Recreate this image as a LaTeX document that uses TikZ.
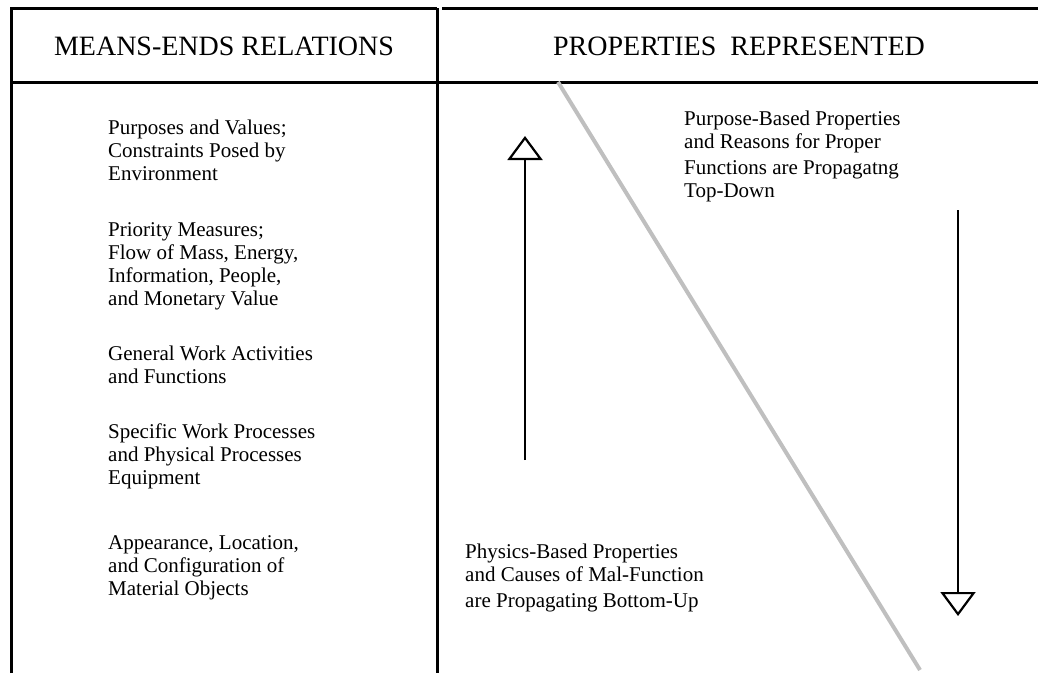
\documentclass[tikz,border=0pt]{standalone}
\usepackage{fontspec}
\setmainfont{Liberation Serif}
\usetikzlibrary{arrows.meta}
\begin{document}
\begin{tikzpicture}[x=1pt,y=-1pt,
  border/.style={line width=3pt, black},
  body/.style={font=\fontsize{21}{23}\selectfont, align=left, anchor=base west, inner sep=0pt},
  head/.style={font=\fontsize{28}{30}\selectfont, inner sep=0pt, anchor=base},
  flow/.style={line width=2.2pt, -{Triangle[open,length=24pt,width=35pt,line width=2.2pt]}},
  diag/.style={line width=4pt, color=black!25}]
\useasboundingbox (0,0) rectangle (1038,673);
% frame
\draw[border] (11,673) -- (11,8) -- (437,8);
\draw[border] (437,8) -- (437,673);
\draw[border] (442,8) -- (1038,8);
\draw[border] (11,82) -- (1038,82);
% headers
\node[head] (h1) at (224,55) {MEANS-ENDS RELATIONS};
\node[head] (h2) at (739,55) {PROPERTIES\ \ REPRESENTED};
% left column (anchor = baseline of last line)
\node[body] (l1) at (108,180) {Purposes and Values;\\Constraints Posed by\\Environment};
\node[body] (l2) at (108,305) {Priority Measures;\\Flow of Mass, Energy,\\Information, People,\\and Monetary Value};
\node[body] (l3) at (108,383) {General Work Activities\\and Functions};
\node[body] (l4) at (108,484) {Specific Work Processes\\and Physical Processes\\Equipment};
\node[body] (l5) at (108,595) {Appearance, Location,\\and Configuration of\\Material Objects};
% right column
\node[body] (r1) at (684,197) {Purpose-Based Properties\\and Reasons for Proper\\[3pt]Functions are Propagatng\\Top-Down};
\node[body] (r2) at (465,607) {Physics-Based Properties\\and Causes of Mal-Function\\[3pt]are Propagating Bottom-Up};
% diagonal
\coordinate (dA) at (558,82);
\coordinate (dB) at (920,670);
\draw[diag] (dA) -- (dB);
% arrows
\coordinate (upS) at (525,460);
\coordinate (upE) at (525,136);
\draw[flow] (upS) -- (upE);
\coordinate (dnS) at (958,210);
\coordinate (dnE) at (958,616);
\draw[flow] (dnS) -- (dnE);
\end{tikzpicture}
\end{document}
